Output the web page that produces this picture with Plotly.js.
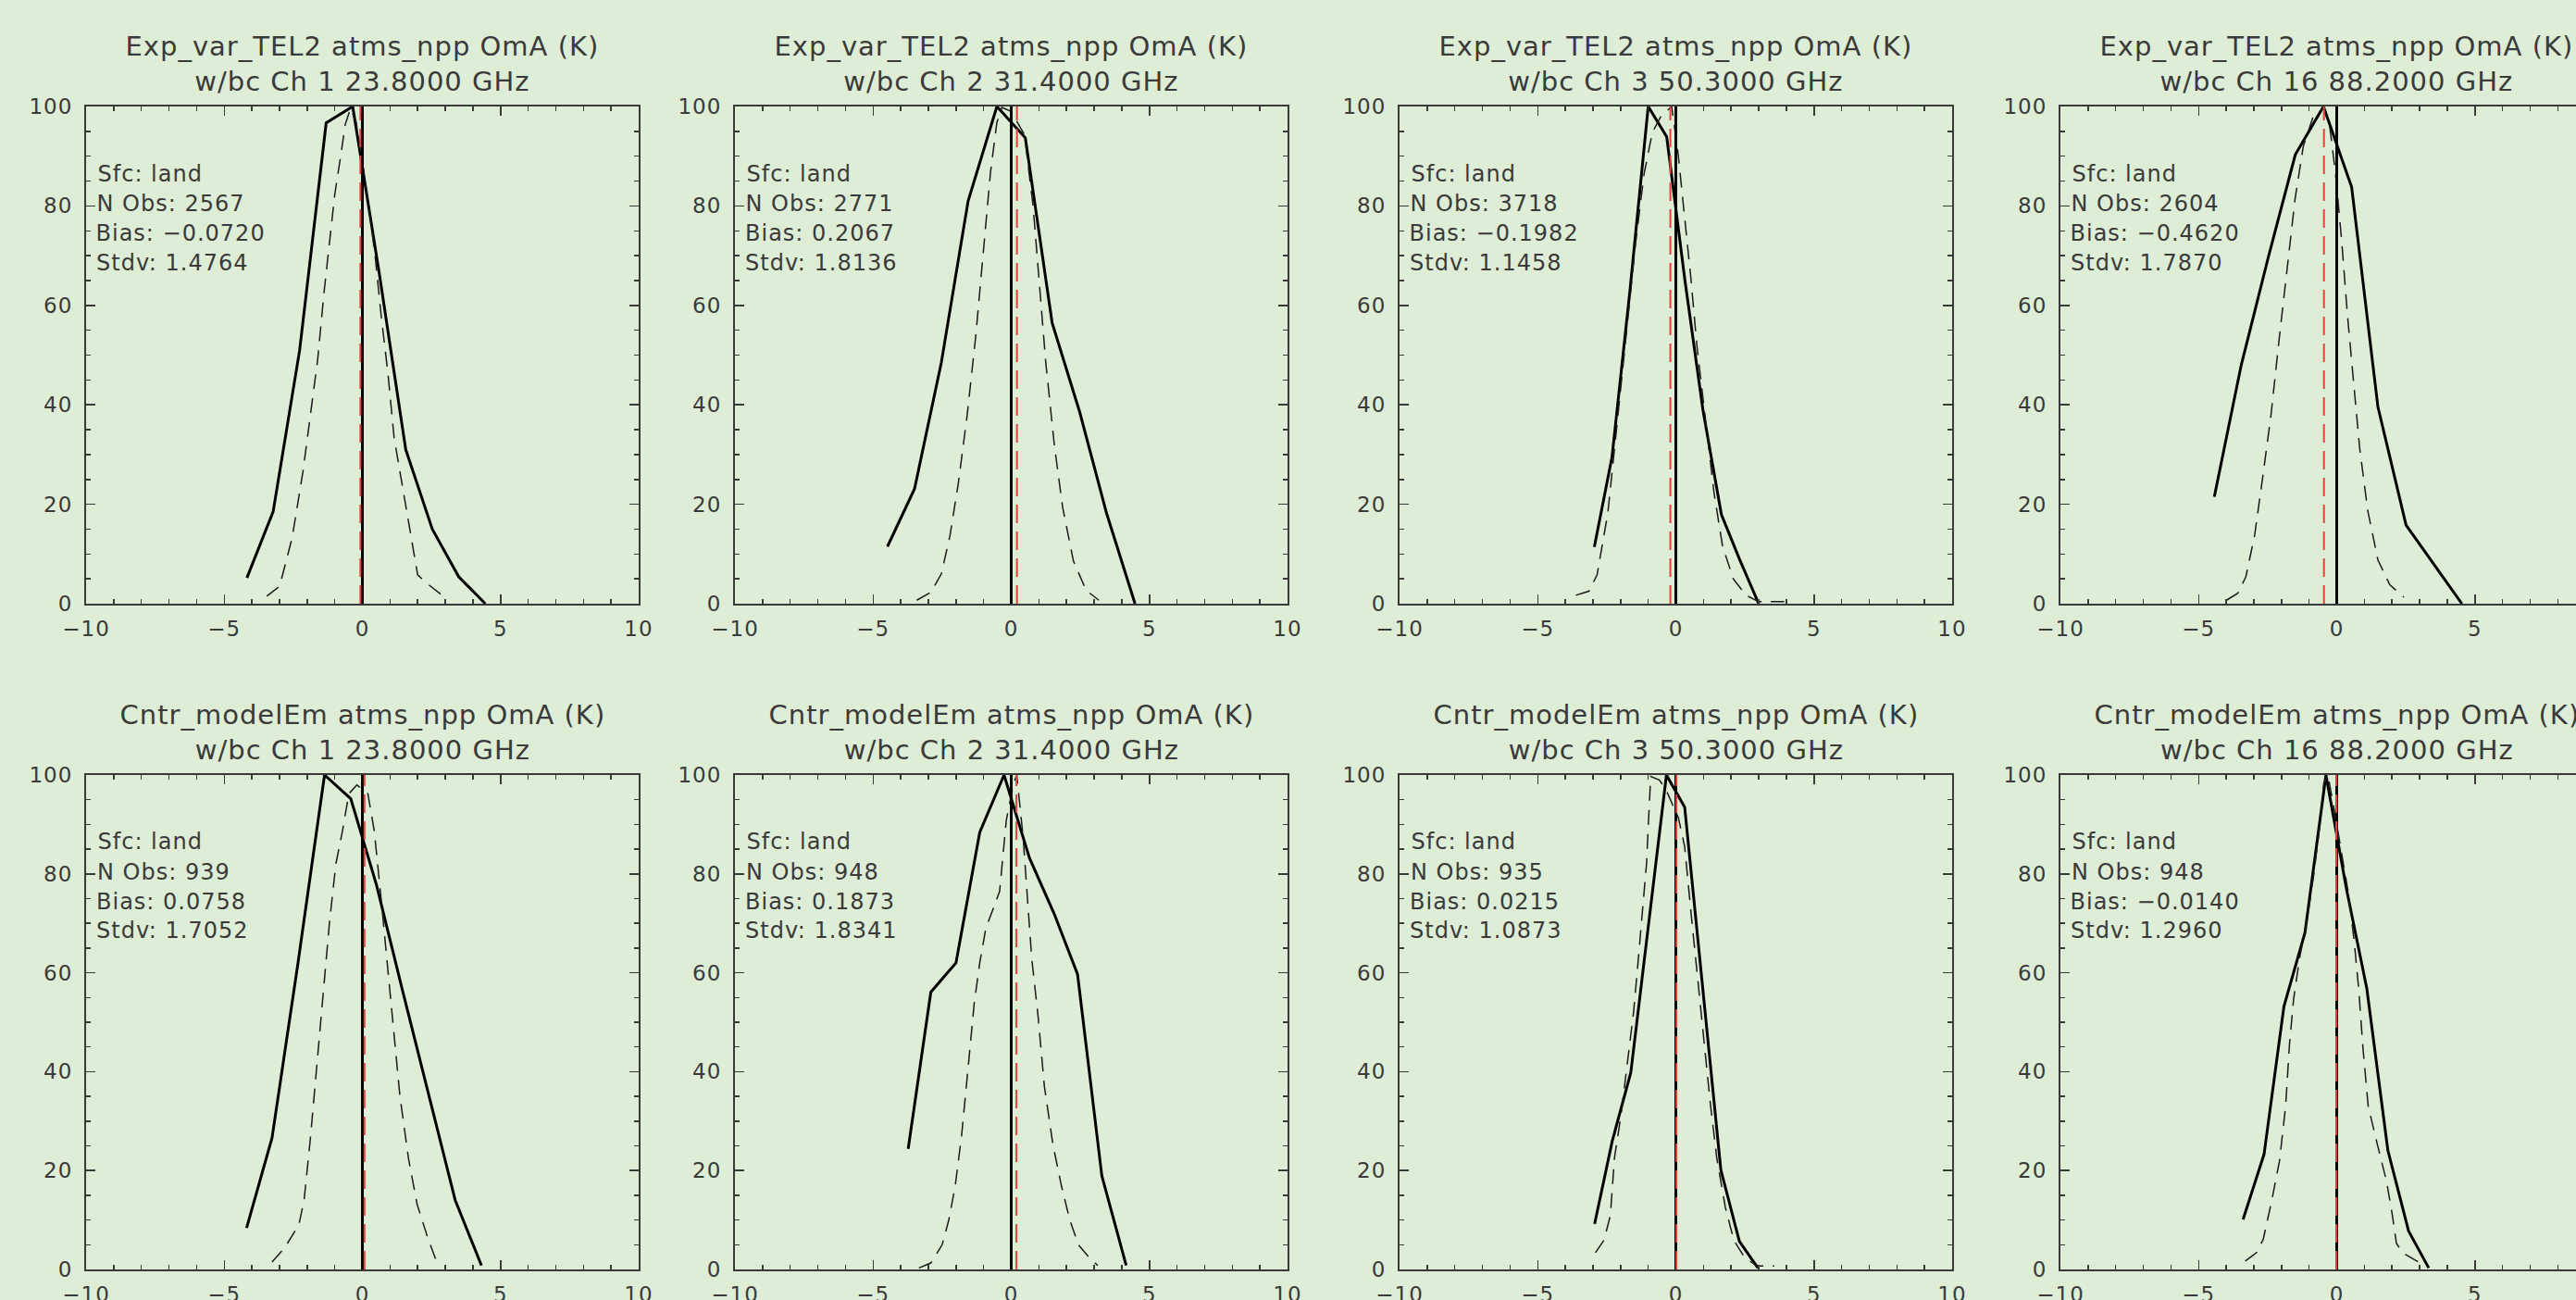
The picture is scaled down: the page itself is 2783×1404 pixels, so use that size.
<!DOCTYPE html>
<html>
<head>
<meta charset="utf-8">
<script src="https://cdn.plot.ly/plotly-3.0.1.min.js"></script>
<style>
html, body { margin: 0; padding: 0; overflow: hidden; background: #DEEDD6; }
#chart { width: 2830px; height: 1404px; }
.main-svg text { letter-spacing: 1px; }
</style>
</head>
<body>
<div id="chart"></div>
<script>
// ---------------- data ----------------
const rowTitles = ["Exp_var_TEL2 atms_npp OmA (K)", "Cntr_modelEm atms_npp OmA (K)"];
const channelLabels = ["w/bc Ch 1 23.8000 GHz", "w/bc Ch 2 31.4000 GHz", "w/bc Ch 3 50.3000 GHz", "w/bc Ch 16 88.2000 GHz"];
const surfaceType = "land";
const nObs = [2567, 2771, 3718, 2604, 939, 948, 935, 948];
const bias = [-0.0720, 0.2067, -0.1982, -0.4620, 0.0758, 0.1873, 0.0215, -0.0140];
const stdv = [1.4764, 1.8136, 1.1458, 1.7870, 1.7052, 1.8341, 1.0873, 1.2960];
const xTickStep = 5, xMinorStep = 1, xRange = [-10, 10];
const yTickStep = 20, yMinorStep = 5, yRange = [0, 100];

// Exp_var_TEL2, Ch 1
const expCh1HistX = [-4.18, -3.23, -2.27, -1.31, -0.35, 0.61, 1.57, 2.53, 3.49, 4.45];
const expCh1HistY = [5.2, 18.5, 51, 96.7, 100, 66.5, 31, 15, 5.4, 0];
const expCh1RefX = [-3.46, -3.0, -2.85, -2.54, -2.15, -1.85, -1.62, -1.38, -1.23, -1.0, -0.77, -0.62, -0.43, -0.23, -0.03, 0.23, 0.46, 0.69, 0.92, 1.15, 1.46, 1.77, 2.0, 2.31, 3.0];
const expCh1RefY = [1.5, 3.5, 6.6, 13.3, 26.6, 39, 49, 63, 70.7, 82.3, 90.6, 96.4, 99.6, 97, 90, 80, 70, 57.4, 46.6, 33.3, 23.3, 13.3, 5.8, 4.2, 1.2];
// Exp_var_TEL2, Ch 2
const expCh2HistX = [-4.48, -3.5, -2.53, -1.56, -0.52, 0.51, 1.48, 2.48, 3.45, 4.48];
const expCh2HistY = [11.5, 23.1, 48.5, 81, 100, 93.7, 56.5, 38.5, 18.2, 0];
const expCh2RefX = [-3.42, -2.91, -2.53, -2.22, -1.91, -1.6, -1.29, -0.99, -0.75, -0.52, -0.34, 0.0, 0.48, 0.79, 1.02, 1.25, 1.56, 1.86, 2.25, 2.71, 3.17];
const expCh2RefY = [0.7, 2.3, 6, 13.6, 24.4, 37.7, 53.5, 71.9, 86.8, 96.8, 99.8, 99, 94.3, 80, 63.5, 48.5, 31.9, 19.4, 8.6, 2.7, 0.7];
// Exp_var_TEL2, Ch 3
const expCh3HistX = [-2.95, -2.31, -1.66, -1.0, -0.33, 0.33, 0.98, 1.65, 2.3, 3.0];
const expCh3HistY = [11.4, 29.5, 63, 100, 93.9, 65, 39, 17.9, 9, 0];
const expCh3RefX = [-3.62, -3.15, -2.85, -2.46, -2.15, -1.85, -1.46, -1.15, -0.85, -0.54, -0.15, 0.08, 0.31, 0.54, 0.77, 1.08, 1.38, 1.69, 2.08, 2.54, 3.0, 3.92];
const expCh3RefY = [1.7, 2.5, 5.8, 18.3, 34.9, 51.5, 72.3, 86.4, 94.8, 98, 100, 90.6, 78, 65.7, 51.5, 36.6, 22.4, 11.6, 5, 1.7, 0.4, 0.4];
// Exp_var_TEL2, Ch 16
const expCh16HistX = [-4.43, -3.46, -2.48, -1.5, -0.48, 0.54, 1.49, 2.51, 3.52, 4.53];
const expCh16HistY = [21.5, 47.9, 69.6, 90.3, 100, 83.8, 39.6, 15.8, 7.9, 0];
const expCh16RefX = [-3.99, -3.58, -3.29, -2.97, -2.68, -2.38, -2.09, -1.8, -1.51, -1.21, -0.85, -0.48, -0.26, -0.04, 0.18, 0.39, 0.61, 0.83, 1.12, 1.49, 1.92, 2.43];
const expCh16RefY = [0.7, 2.1, 5.4, 13.8, 25.4, 37.9, 52.9, 67, 81.3, 92, 98, 99.6, 96.3, 86.3, 72.9, 57.9, 44.6, 31.3, 18.8, 8.8, 3.8, 1.3];
// Cntr_modelEm, Ch 1
const ctlCh1HistX = [-4.19, -3.27, -2.33, -1.37, -0.42, 0.51, 1.45, 2.38, 3.36, 4.31];
const ctlCh1HistY = [8.4, 26.6, 62, 100, 95.2, 77.8, 56.5, 36, 14, 0.8];
const ctlCh1RefX = [-3.27, -2.81, -2.3, -2.11, -1.88, -1.65, -1.42, -1.19, -0.96, -0.72, -0.49, -0.2, 0.2, 0.43, 0.66, 0.9, 1.13, 1.36, 1.67, 1.98, 2.36, 2.67];
const ctlCh1RefY = [1.5, 4.4, 9, 14, 26.6, 40.9, 55.1, 70.2, 82, 88.7, 96.2, 98, 96.2, 88.7, 76, 61.8, 47.6, 35, 22.4, 13.2, 6.5, 1.8];
// Cntr_modelEm, Ch 2
const ctlCh2HistX = [-3.73, -2.91, -2.0, -1.14, -0.26, 0.66, 1.55, 2.4, 3.28, 4.16];
const ctlCh2HistY = [24.4, 56.1, 62, 88.4, 100, 83.2, 72, 59.7, 18.9, 0.8];
const ctlCh2RefX = [-3.34, -2.91, -2.5, -2.26, -2.03, -1.8, -1.57, -1.34, -1.14, -0.92, -0.65, -0.42, -0.18, 0.08, 0.2, 0.43, 0.59, 0.74, 0.97, 1.2, 1.51, 1.82, 2.12, 2.43, 2.81, 3.13];
const ctlCh2RefY = [0.3, 1.3, 5, 10, 16.8, 26.9, 40.3, 53.8, 62, 69, 73, 76.5, 90.8, 98.3, 100, 87.4, 74.8, 63, 51.3, 37, 25.2, 16.8, 10, 5, 2.5, 0.8];
// Cntr_modelEm, Ch 3
const ctlCh3HistX = [-2.94, -2.3, -1.63, -0.99, -0.34, 0.32, 0.97, 1.63, 2.3, 2.97];
const ctlCh3HistY = [9.2, 26, 39.8, 70, 100, 93.5, 57, 20.1, 5.7, 0.3];
const ctlCh3RefX = [-2.91, -2.6, -2.37, -2.22, -1.99, -1.76, -1.53, -1.37, -1.22, -1.06, -0.99, -0.91, -0.6, -0.37, 0.09, 0.32, 0.55, 0.79, 1.02, 1.25, 1.48, 1.79, 2.1, 2.48, 2.94, 3.56];
const ctlCh3RefY = [3.4, 5.9, 10.9, 22.6, 31, 41.9, 52, 62, 72.1, 82.1, 90.5, 99.7, 99, 97.2, 91.4, 85.5, 72.1, 58.7, 46.1, 33.5, 22.6, 12.6, 5.9, 2.5, 0.7, 0.7];
// Cntr_modelEm, Ch 16
const ctlCh16HistX = [-3.39, -2.63, -1.91, -1.15, -0.39, 0.35, 1.09, 1.85, 2.6, 3.33];
const ctlCh16HistY = [10.1, 23.3, 53.2, 68.1, 100, 77, 56.8, 24.1, 7.8, 0.3];
const ctlCh16RefX = [-3.31, -2.9, -2.66, -2.36, -2.07, -1.85, -1.71, -1.56, -1.34, -1.05, -0.83, -0.61, -0.47, -0.32, -0.1, 0.12, 0.41, 0.63, 0.8, 0.95, 1.14, 1.5, 1.8, 2.01, 2.16, 2.38, 2.96];
const ctlCh16RefY = [1.7, 3.4, 6.1, 13.7, 22, 33, 45.5, 54.7, 63.1, 71.5, 79.9, 89.9, 98.3, 100, 93.3, 85.7, 76.5, 66.5, 56.4, 44.7, 33, 24.6, 17.9, 11.1, 5.3, 3.4, 1.5];

// ---------------- layout ----------------
const W = 2830, H = 1404;
const colLeft = [93, 794, 1512, 2226];
const plotW = 597;
const rowTop = [115, 837];
const plotH = [537, 534];
const ink = '#3a3a3a';
const bg = '#DEEDD6';
const fontFamily = '"DejaVu Sans", "Liberation Sans", sans-serif';

const panels = [
  [expCh1HistX, expCh1HistY, expCh1RefX, expCh1RefY],
  [expCh2HistX, expCh2HistY, expCh2RefX, expCh2RefY],
  [expCh3HistX, expCh3HistY, expCh3RefX, expCh3RefY],
  [expCh16HistX, expCh16HistY, expCh16RefX, expCh16RefY],
  [ctlCh1HistX, ctlCh1HistY, ctlCh1RefX, ctlCh1RefY],
  [ctlCh2HistX, ctlCh2HistY, ctlCh2RefX, ctlCh2RefY],
  [ctlCh3HistX, ctlCh3HistY, ctlCh3RefX, ctlCh3RefY],
  [ctlCh16HistX, ctlCh16HistY, ctlCh16RefX, ctlCh16RefY]
];

const fmt = v => v.toFixed(4).replace('-', '\u2212');
const statsLineY = [86.5, 80.4, 74.4, 68.5];

const traces = [];
const layout = {
  width: W, height: H,
  margin: {l: 0, r: 0, t: 0, b: 0, pad: 0},
  paper_bgcolor: bg, plot_bgcolor: bg,
  showlegend: false,
  font: {family: fontFamily, size: 24, color: ink},
  annotations: [], shapes: []
};

panels.forEach((p, i) => {
  const row = Math.floor(i / 4), col = i % 4;
  const n = i === 0 ? '' : String(i + 1);
  const xa = 'x' + n, ya = 'y' + n;
  const x0 = colLeft[col] / W, x1 = (colLeft[col] + plotW) / W;
  const yTop = 1 - rowTop[row] / H, yBot = 1 - (rowTop[row] + plotH[row]) / H;

  layout['xaxis' + n] = {
    domain: [x0, x1], anchor: ya, range: xRange,
    tickmode: 'linear', tick0: xRange[0], dtick: xTickStep,
    ticks: 'inside', ticklen: 10, tickwidth: 1.5, tickcolor: ink,
    minor: {dtick: xMinorStep, ticks: 'inside', ticklen: 5, tickwidth: 1.5, tickcolor: ink},
    showline: true, linecolor: ink, linewidth: 2, mirror: 'ticks',
    showgrid: false, zeroline: false, ticklabelstandoff: 5,
    tickfont: {size: 23, color: ink, family: fontFamily}
  };
  layout['yaxis' + n] = {
    domain: [yBot, yTop], anchor: xa, range: yRange,
    tickmode: 'linear', tick0: 0, dtick: yTickStep,
    ticks: 'inside', ticklen: 10, tickwidth: 1.5, tickcolor: ink,
    minor: {dtick: yMinorStep, ticks: 'inside', ticklen: 5, tickwidth: 1.5, tickcolor: ink},
    showline: true, linecolor: ink, linewidth: 2, mirror: 'ticks',
    showgrid: false, zeroline: false, ticklabelstandoff: 8,
    tickfont: {size: 23, color: ink, family: fontFamily}
  };

  traces.push({
    x: p[0], y: p[1], xaxis: xa, yaxis: ya, type: 'scatter', mode: 'lines',
    line: {color: '#000000', width: 3}, hoverinfo: 'skip'
  });
  traces.push({
    x: p[2], y: p[3], xaxis: xa, yaxis: ya, type: 'scatter', mode: 'lines',
    line: {color: '#1a1a1a', width: 1.5, dash: '16px,10px'}, hoverinfo: 'skip'
  });

  // zero reference line and bias line
  layout.shapes.push({
    type: 'line', xref: xa, yref: ya + ' domain', x0: 0, x1: 0, y0: 0, y1: 1,
    line: {color: '#000000', width: 3}, layer: 'above'
  });
  layout.shapes.push({
    type: 'line', xref: xa, yref: ya + ' domain', x0: bias[i], x1: bias[i], y0: 0, y1: 1,
    line: {color: '#E8413A', width: 2, dash: '20px,9px'}, layer: 'above'
  });

  // two-line title
  const cx = (colLeft[col] + plotW / 2) / W;
  layout.annotations.push({
    xref: 'paper', yref: 'paper', x: cx, y: 1 - (rowTop[row] - 46) / H,
    xanchor: 'center', yanchor: 'middle', showarrow: false,
    text: rowTitles[row] + '<br>' + channelLabels[col],
    font: {size: 29, color: ink, family: fontFamily}
  });

  // stats text
  const lines = ['Sfc: ' + surfaceType, 'N Obs: ' + nObs[i], 'Bias: ' + fmt(bias[i]), 'Stdv: ' + fmt(stdv[i])];
  lines.forEach((t, k) => {
    layout.annotations.push({
      xref: xa, yref: ya, x: -9.5, y: statsLineY[k],
      xanchor: 'left', yanchor: 'middle', showarrow: false,
      text: t, font: {size: 24, color: ink, family: fontFamily}
    });
  });
});

Plotly.newPlot('chart', traces, layout, {staticPlot: true, displayModeBar: false});
</script>
</body>
</html>
